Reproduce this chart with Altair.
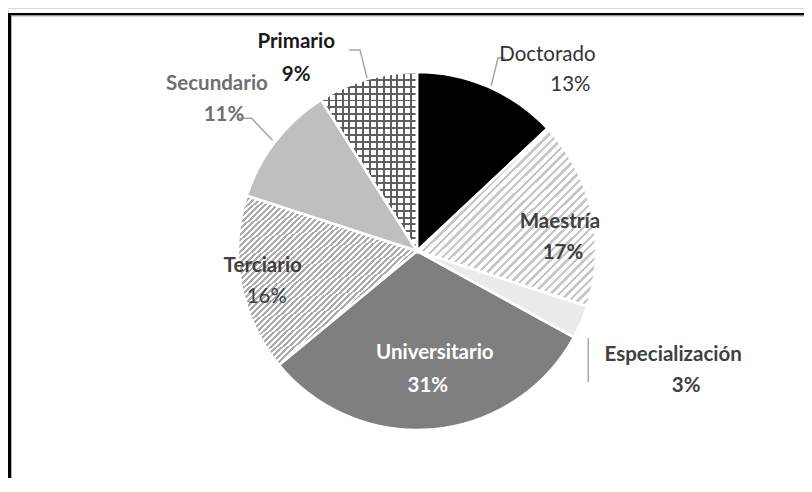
import math
import altair as alt
import pandas as pd

# ---------------- data ----------------
categories = ["Doctorado", "Maestría", "Especialización", "Universitario",
              "Terciario", "Secundario", "Primario"]
percent = [13, 17, 3, 31, 16, 11, 9]
pct_labels = ["13%", "17%", "3%", "31%", "16%", "11%", "9%"]

df = pd.DataFrame({"cat": categories, "value": percent, "pct": pct_labels,
                   "order": list(range(len(categories)))})

# ---------------- layout / style ----------------
W, H = 796, 470
CX, CY = 409, 243          # pie centre inside the view
R = 179
FONT = "Lato"
FS = 20.5

theta_scale = alt.Scale(domain=[0, 100], range=[0, 2 * math.pi])

base_fill = {"Doctorado": "#000000", "Maestría": "#ffffff", "Especialización": "#ebebeb",
             "Universitario": "#7f7f7f", "Terciario": "#ffffff", "Secundario": "#bfbfbf",
             "Primario": "#ffffff"}


def chart():
    return (alt.Chart(df)
            .transform_window(cum="sum(value)", sort=[alt.SortField("order")], frame=[None, 0])
            .transform_calculate(start="datum.cum - datum.value",
                                 mid="datum.cum - datum.value / 2"))


def arc_enc():
    return dict(theta=alt.Theta("start:Q", scale=theta_scale, stack=None),
                theta2=alt.Theta2("cum:Q"),
                x=alt.value(CX), y=alt.value(CY))


def stripes(x1, y1, x2, y2, n, duty, line, bg):
    stops = []
    for i in range(n):
        a = round(i / n, 5)
        b = round((i + duty) / n, 5)
        c = round((i + 1) / n, 5)
        stops += [alt.GradientStop(offset=a, color=line), alt.GradientStop(offset=b, color=line),
                  alt.GradientStop(offset=b, color=bg), alt.GradientStop(offset=c, color=bg)]
    return alt.LinearGradient(gradient="linear", stops=stops, x1=x1, y1=y1, x2=x2, y2=y2)


layers = []

# solid base slices
layers.append(chart().mark_arc(radius=R, strokeWidth=0).encode(
    fill=alt.Fill("cat:N", scale=alt.Scale(domain=categories,
                                            range=[base_fill[c] for c in categories]),
                  legend=None),
    **arc_enc()))


def overlay(cat, grad):
    return (chart().transform_filter(alt.datum.cat == cat)
            .mark_arc(radius=R, fill=grad, strokeWidth=0).encode(**arc_enc()))


# Maestría: light upward diagonal
layers.append(overlay("Maestría", stripes(0, 0, 1, 1, 42, 0.4, "#c8c8c8", "#ffffff")))
# Terciario: dense upward diagonal
layers.append(overlay("Terciario", stripes(0, 0, 1, 1, 60, 0.5, "#ababab", "#ffffff")))
# Primario: grid
layers.append(overlay("Primario", stripes(0, 0, 0, 1, 26, 0.28, "#5e5e5e", "#ffffff")))
layers.append(overlay("Primario", stripes(0, 0, 1, 0, 14, 0.28, "#5e5e5e", "rgba(255,255,255,0)")))

# white separators
layers.append(chart().mark_arc(radius=R, fillOpacity=0, stroke="#ffffff", strokeWidth=2.5)
              .encode(**arc_enc()))

# ---------------- leader lines ----------------
leader_offsets = {
    "Doctorado": [(3, -1), (10, -29), (17, -29)],
    "Especialización": [(7, 16), (7, 60)],
    "Secundario": [(-3, -1), (-24, -23), (-38, -23)],
    "Primario": [(0, -1), (-7, -29), (-18, -29)],
}
rows = []
cum = 0
for c, v in zip(categories, percent):
    mid = cum + v / 2
    cum += v
    if c in leader_offsets:
        t = 2 * math.pi * mid / 100
        ax, ay = CX + R * math.sin(t), CY - R * math.cos(t)
        for k, (ox, oy) in enumerate(leader_offsets[c]):
            rows.append({"cat": c, "seq": k, "px": ax + ox, "py": ay + oy})
leader_df = pd.DataFrame(rows)
layers.append(alt.Chart(leader_df).mark_line(color="#a6a6a6", strokeWidth=1.5).encode(
    x=alt.X("px:Q", scale=None, axis=None),
    y=alt.Y("py:Q", scale=None, axis=None),
    detail="cat:N", order="seq:Q"))

# ---------------- labels ----------------
label_style = {
    "Doctorado": dict(r=215, name=(45, 1), pct=(68, 31), color="#333333", w="normal", pw="normal"),
    "Maestría": dict(r=148, name=(-1.5, 3), pct=(1.5, 34), color="#404040", w="bold", pw="bold"),
    "Especialización": dict(r=265, name=(13, -1), pct=(26, 30), color="#404040", w="bold", pw="bold"),
    "Universitario": dict(r=115, name=(7, -12.5), pct=(0, 20.5), color="#ffffff", w="bold", pw="bold"),
    "Terciario": dict(r=155, name=(-2, -14), pct=(2, 17), color="#404040", w="bold", pw="normal"),
    "Secundario": dict(r=250, name=(-2.5, -14), pct=(4.5, 17), color="#6f6f6f", w="bold", pw="bold"),
    "Primario": dict(r=200, name=(-65, -17), pct=(-65, 16), color="#1a1a1a", w="bold", pw="bold"),
}
for c in categories:
    s = label_style[c]
    for field, (dx, dy), wt in (("cat", s["name"], s["w"]), ("pct", s["pct"], s["pw"])):
        layers.append(
            chart().transform_filter(alt.datum.cat == c)
            .mark_text(radius=s["r"], dx=dx, dy=dy, font=FONT, fontSize=FS, fontWeight=wt,
                       color=s["color"], align="center", baseline="middle")
            .encode(theta=alt.Theta("mid:Q", scale=theta_scale, stack=None),
                    text=alt.Text(f"{field}:N"),
                    x=alt.value(CX), y=alt.value(CY)))

# ---------------- frame (left and top edges) ----------------
frame_df = pd.DataFrame({"k": [0]})
layers.append(alt.Chart(frame_df).mark_rule(color="#000000", strokeWidth=3).encode(
    x=alt.value(1.5), y=alt.value(5), y2=alt.value(H)))
layers.append(alt.Chart(frame_df).mark_rule(color="#000000", strokeWidth=2.5).encode(
    x=alt.value(0), x2=alt.value(W), y=alt.value(6.3)))
layers.append(alt.Chart(frame_df).mark_rule(color="#b0b0b0", strokeWidth=1).encode(
    x=alt.value(3.5), y=alt.value(7.5), y2=alt.value(H)))
layers.append(alt.Chart(frame_df).mark_rule(color="#b0b0b0", strokeWidth=1).encode(
    x=alt.value(3), x2=alt.value(W), y=alt.value(8)))

final = (alt.layer(*layers)
         .properties(width=W, height=H, autosize=alt.AutoSizeParams(type="none"), padding=0)
         .configure_view(stroke="transparent")
         .configure(background="#ffffff"))

chart_obj = final
chart_obj.save("out.html", embed_options={"renderer": "svg", "actions": False})
